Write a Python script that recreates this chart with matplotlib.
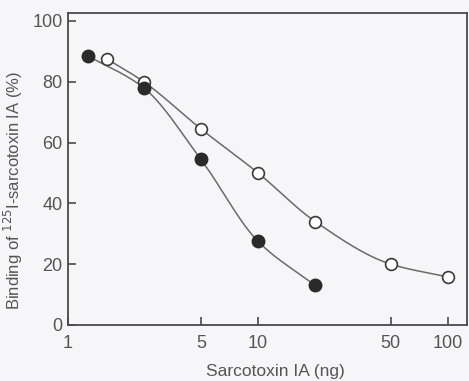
import matplotlib
matplotlib.use('Agg')
import matplotlib.pyplot as plt
import numpy as np

plt.rcParams['font.family'] = ['Liberation Sans', 'DejaVu Sans']

# dose of sarcotoxin IA (ng) and bound label (%)
dose_filled = [1.27, 2.5, 5, 10, 20]
bind_filled = [88.5, 78, 54.5, 27.5, 13]

dose_open = [1.6, 2.5, 5, 10, 20, 50, 100]
bind_open = [87.5, 80, 64.5, 50, 34, 20, 15.8]

xticks = [1, 5, 10, 50, 100]
yticks = [0, 20, 40, 60, 80, 100]

ink = '#4a4a4a'
bg = '#f6f6f8'


def smooth_curve(xs, ys, n=40):
    # monotone cubic hermite through the points, in log10(x)
    lx = np.log10(xs)
    y = np.asarray(ys, float)
    h = np.diff(lx)
    d = np.diff(y) / h
    m = np.zeros_like(y)
    m[0], m[-1] = d[0], d[-1]
    for i in range(1, len(y) - 1):
        if d[i - 1] * d[i] > 0:
            w1 = 2 * h[i] + h[i - 1]
            w2 = h[i] + 2 * h[i - 1]
            m[i] = (w1 + w2) / (w1 / d[i - 1] + w2 / d[i])
    out_x, out_y = [], []
    for i in range(len(h)):
        t = np.linspace(0, 1, n)
        h00 = 2 * t**3 - 3 * t**2 + 1
        h10 = t**3 - 2 * t**2 + t
        h01 = -2 * t**3 + 3 * t**2
        h11 = t**3 - t**2
        out_x.append(lx[i] + t * h[i])
        out_y.append(h00 * y[i] + h10 * h[i] * m[i] + h01 * y[i + 1] + h11 * h[i] * m[i + 1])
    return 10 ** np.concatenate(out_x), np.concatenate(out_y)


fig = plt.figure(figsize=(4.69, 3.81), dpi=100, facecolor=bg)
ax = fig.add_axes([0.145, 0.147, 0.851, 0.819], facecolor=bg)

cx, cy = smooth_curve(dose_open, bind_open)
ax.plot(cx, cy, '-', color='#6a6a6a', lw=1.1, zorder=2)
ax.plot(dose_open, bind_open, 'o', ms=8.5, mfc='white', mec='#3a3a3a', mew=1.2, zorder=3)
cx, cy = smooth_curve(dose_filled, bind_filled)
ax.plot(cx, cy, '-', color='#6a6a6a', lw=1.1, zorder=2)
ax.plot(dose_filled, bind_filled, 'o', ms=9, mfc='#2a2a2a', mec='#2a2a2a', zorder=4)

ax.set_xscale('log')
ax.set_xlim(1, 126)
ax.set_ylim(0, 102.6)
ax.set_xticks(xticks)
ax.set_xticklabels([str(t) for t in xticks])
ax.xaxis.set_minor_locator(matplotlib.ticker.NullLocator())
ax.set_yticks(yticks)

for s in ax.spines.values():
    s.set_color(ink)
    s.set_linewidth(1.3)
ax.tick_params(direction='in', length=6, width=1.2, colors=ink, labelsize=13, labelcolor='#555555')
ax.tick_params(axis='x', pad=7)
ax.tick_params(axis='y', pad=4)

ax.set_xlabel('Sarcotoxin IA (ng)', fontsize=12.5, color='#555555')
ax.xaxis.set_label_coords(0.52, -0.125)
ax.set_ylabel('Binding of $^{125}$I-sarcotoxin IA (%)', fontsize=12, color='#555555')
ax.yaxis.set_label_coords(-0.108, 0.43)

fig.savefig('out.png', dpi=100, facecolor=bg)
